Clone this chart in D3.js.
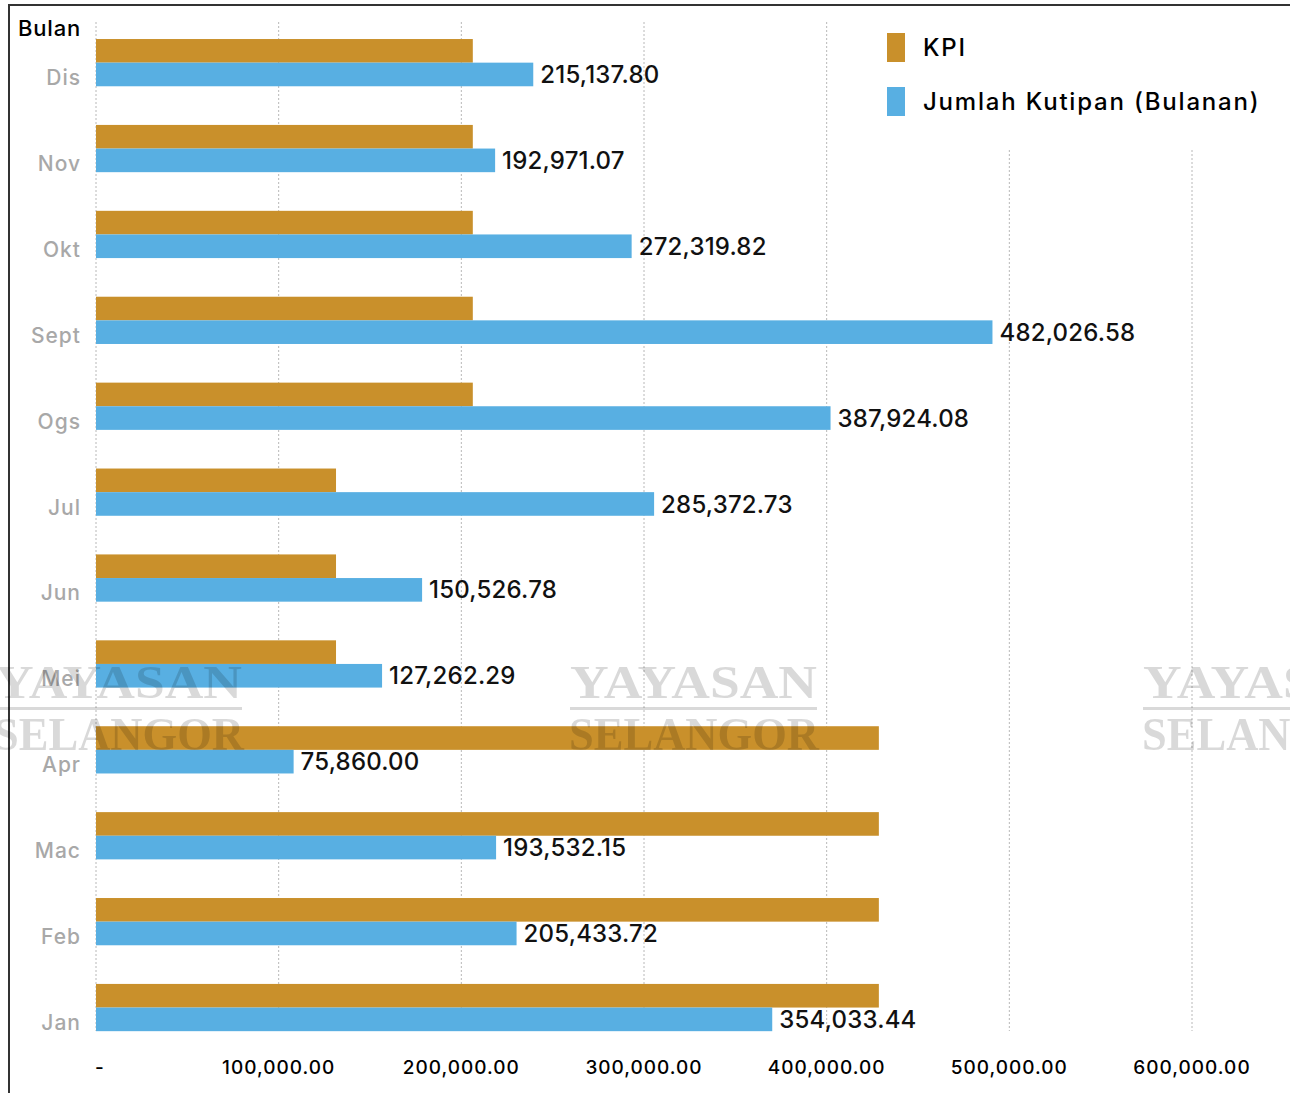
<!DOCTYPE html>
<html>
<head>
<meta charset="utf-8">
<script src="https://cdn.jsdelivr.net/npm/d3@7"></script>
<style>
body { margin: 0; background: #fff; }
text { font-family: Inter, "Open Sans", sans-serif; }
</style>
</head>
<body>
<svg id="chart" width="1290" height="1093"></svg>
<script>
'use strict';

var months = ['Jan', 'Feb', 'Mac', 'Apr', 'Mei', 'Jun', 'Jul', 'Ogs', 'Sept', 'Okt', 'Nov', 'Dis'];
var kpi = [416000, 416000, 416000, 416000, 100500, 100500, 100500, 180000, 180000, 180000, 180000, 180000];
var kutipan = [354033.44, 205433.72, 193532.15, 75860.00, 127262.29, 150526.78, 285372.73,
	387924.08, 482026.58, 272319.82, 192971.07, 215137.80];
var tickLabels = ['-', '100,000.00', '200,000.00', '300,000.00', '400,000.00', '500,000.00', '600,000.00'];
var seriesNames = ['KPI', 'Jumlah Kutipan (Bulanan)'];
var seriesColors = ['#c9902b', '#58afe2'];

var rows = months.map(function (m, i) { return { month: m, kpi: kpi[i], kutipan: kutipan[i] }; });

var svg = d3.select('#chart');
var left = 96, right = 1192;

var x = d3.scaleLinear().domain([-39000, 598000]).range([left, right]);
var grid = d3.scalePoint().domain(tickLabels).range([left, right]);
var y = d3.scaleBand().domain(months.slice().reverse())
	.range([19.7, 1050.5]).paddingInner(0.45).paddingOuter(0.225);
var sub = d3.scaleBand().domain(['kpi', 'kutipan']).range([0, y.bandwidth()]);

// frame
svg.append('path')
	.attr('d', 'M9,1093V5H1290')
	.attr('fill', 'none').attr('stroke', '#333').attr('stroke-width', 2);

// gridlines
svg.append('g').selectAll('line').data(tickLabels).join('line')
	.attr('x1', function (d) { return grid(d); })
	.attr('x2', function (d) { return grid(d); })
	.attr('y1', 22).attr('y2', 1031)
	.attr('stroke', '#b8b8b8').attr('stroke-width', 1).attr('stroke-dasharray', '2,2');

// legend background hides the top of the right gridlines
svg.append('rect').attr('x', 860).attr('y', 7).attr('width', 430).attr('height', 143).attr('fill', '#fff');

// bars
var groups = svg.append('g').selectAll('g').data(rows).join('g')
	.attr('transform', function (d) { return 'translate(0,' + y(d.month) + ')'; });

groups.append('rect')
	.attr('x', left).attr('y', sub('kpi'))
	.attr('width', function (d) { return x(d.kpi) - left; })
	.attr('height', sub.bandwidth())
	.attr('fill', seriesColors[0]);

groups.append('rect')
	.attr('x', left).attr('y', sub('kutipan'))
	.attr('width', function (d) { return x(d.kutipan) - left; })
	.attr('height', sub.bandwidth())
	.attr('fill', seriesColors[1]);

// value labels
var fmt = d3.format(',.2f');
groups.append('text')
	.attr('x', function (d) { return x(d.kutipan) + 7; })
	.attr('y', sub('kutipan') + sub.bandwidth() / 2)
	.attr('dy', '0.36em')
	.attr('font-size', 24).attr('font-weight', 500).attr('letter-spacing', 0.2)
	.attr('fill', '#111')
	.text(function (d) { return fmt(d.kutipan); });

// month labels
groups.append('text')
	.attr('x', 81)
	.attr('y', sub('kutipan') + sub.bandwidth() / 2 + 3)
	.attr('dy', '0.36em')
	.attr('text-anchor', 'end')
	.attr('font-size', 21).attr('font-weight', 500).attr('letter-spacing', 1)
	.attr('fill', '#a8a8a8')
	.text(function (d) { return d.month; });

svg.append('text')
	.attr('x', 18).attr('y', 36)
	.attr('font-size', 22).attr('font-weight', 500).attr('letter-spacing', 0.8)
	.attr('fill', '#000')
	.text('Bulan');

// x tick labels
svg.append('g').selectAll('text').data(tickLabels).join('text')
	.attr('x', function (d, i) { return i === 0 ? grid(d) + 4 : grid(d); })
	.attr('y', 1074)
	.attr('text-anchor', 'middle')
	.attr('font-size', 19).attr('font-weight', 500).attr('letter-spacing', 1)
	.attr('fill', '#000')
	.text(function (d) { return d; });

// legend
var legend = svg.append('g').selectAll('g').data(seriesNames).join('g')
	.attr('transform', function (d, i) { return 'translate(887,' + (33 + i * 54) + ')'; });
legend.append('rect')
	.attr('width', 18).attr('height', 29)
	.attr('fill', function (d, i) { return seriesColors[i]; });
legend.append('text')
	.attr('x', 36).attr('y', 14.5).attr('dy', '0.36em')
	.attr('font-size', 24).attr('font-weight', 500).attr('letter-spacing', 1.8)
	.attr('fill', '#000')
	.text(function (d) { return d; });

// watermarks
var marks = svg.append('g').attr('opacity', 0.15).selectAll('g').data([-5, 570, 1143]).join('g')
	.attr('transform', function (d) { return 'translate(' + d + ',0)'; });
marks.append('text')
	.attr('x', 0).attr('y', 698)
	.attr('font-weight', 'bold').attr('font-size', 46)
	.attr('textLength', 247).attr('lengthAdjust', 'spacingAndGlyphs')
	.style('font-family', '"Liberation Serif", serif')
	.text('YAYASAN');
marks.append('rect').attr('x', 0).attr('y', 707).attr('width', 247).attr('height', 3);
marks.append('text')
	.attr('x', -1).attr('y', 750)
	.attr('font-weight', 'bold').attr('font-size', 46)
	.attr('textLength', 250).attr('lengthAdjust', 'spacingAndGlyphs')
	.style('font-family', '"Liberation Serif", serif')
	.text('SELANGOR');
</script>
</body>
</html>
